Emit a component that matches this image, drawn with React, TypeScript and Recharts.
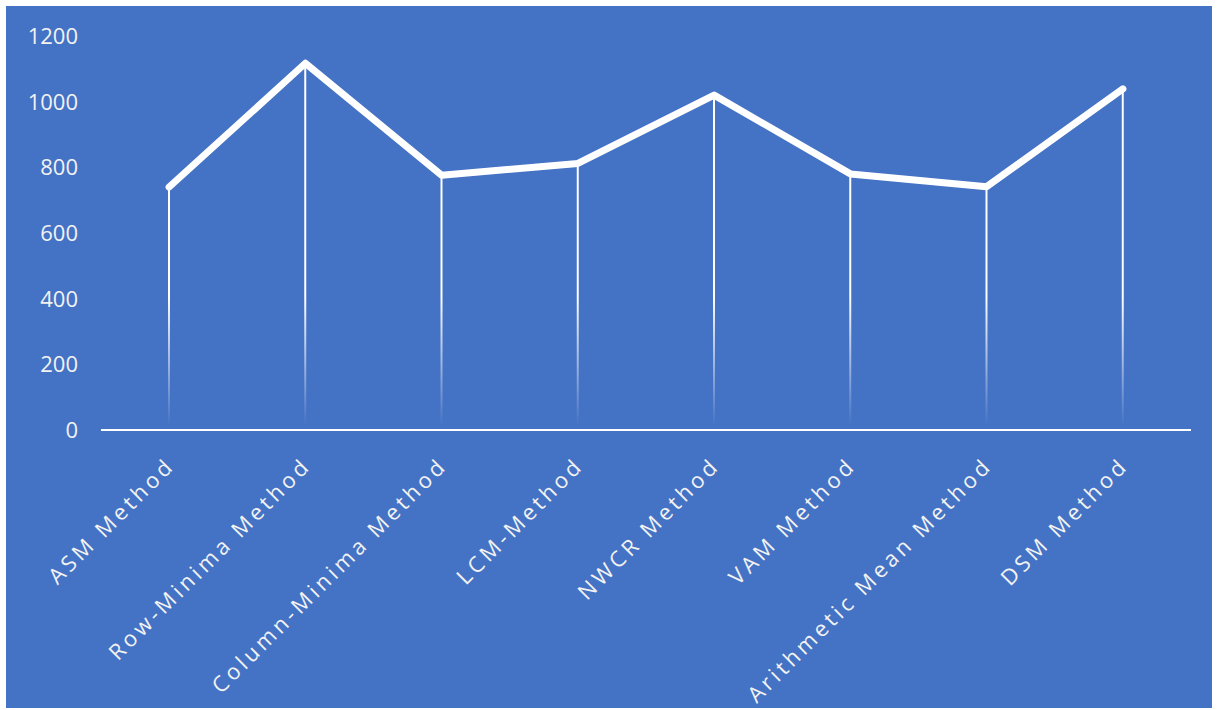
import { Bar, ComposedChart, Line, XAxis, YAxis } from "recharts";

const methods = [
  "ASM Method",
  "Row-Minima Method",
  "Column-Minima Method",
  "LCM-Method",
  "NWCR Method",
  "VAM Method",
  "Arithmetic Mean Method",
  "DSM Method",
];
const costs = [740, 1117, 776, 812, 1020, 780, 741, 1039];
const yTicks = [0, 200, 400, 600, 800, 1000, 1200];

const data = methods.map((name, i) => ({ name, cost: costs[i] }));

const W = 1206;
const H = 702;

function MethodTick(props: any) {
  const { x, y, payload } = props;
  const ax = x + 7;
  const ay = y + 29;
  return (
    <text
      x={ax}
      y={ay}
      transform={`rotate(-45, ${ax}, ${ay})`}
      textAnchor="end"
      fill="#f2f2f2"
      fontSize={22}
      letterSpacing={3.6}
      fontFamily="'Open Sans', sans-serif"
    >
      {payload.value}
    </text>
  );
}

function ValueTick(props: any) {
  const { x, y, payload } = props;
  return (
    <text
      x={x}
      y={y}
      dy={8}
      textAnchor="end"
      fill="#f2f2f2"
      fontSize={22}
      fontFamily="'Open Sans', sans-serif"
    >
      {payload.value}
    </text>
  );
}

export default function App() {
  return (
    <div
      style={{
        position: "absolute",
        left: 6,
        top: 6,
        width: W,
        height: H,
        background: "#4472C4",
      }}
    >
      <ComposedChart
        width={W}
        height={H}
        data={data}
        margin={{ top: 30, right: 21, bottom: 0, left: 0 }}
      >
        <defs>
          <linearGradient id="dropFade" gradientUnits="userSpaceOnUse" x1="0" y1="290" x2="0" y2="420">
            <stop offset="0%" stopColor="#ffffff" stopOpacity={1} />
            <stop offset="100%" stopColor="#ffffff" stopOpacity={0} />
          </linearGradient>
        </defs>
        <XAxis
          dataKey="name"
          interval={0}
          height={278}
          axisLine={{ stroke: "#ffffff", strokeWidth: 2 }}
          tickLine={false}
          tick={<MethodTick />}
        />
        <YAxis
          width={95}
          domain={[0, 1200]}
          ticks={yTicks}
          axisLine={false}
          tickLine={false}
          tickSize={0}
          tickMargin={23}
          tick={<ValueTick />}
        />
        <Bar
          dataKey="cost"
          barSize={2}
          fill="url(#dropFade)"
          isAnimationActive={false}
        />
        <Line
          type="linear"
          dataKey="cost"
          stroke="#ffffff"
          strokeWidth={7}
          strokeLinejoin="round"
          strokeLinecap="round"
          dot={false}
          activeDot={false}
          isAnimationActive={false}
        />
      </ComposedChart>
    </div>
  );
}
